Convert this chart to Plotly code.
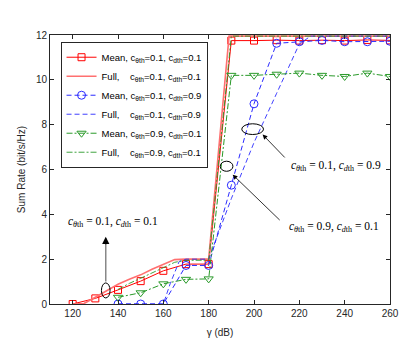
import plotly.graph_objects as go

# gamma (dB) grids
g_red = [120, 130, 140, 150, 160, 170, 180, 190, 200, 210, 220, 230, 240, 250, 260]
g_mean = [140, 150, 160, 170, 180, 190, 200, 210, 220, 230, 240, 250, 260]

# Mean, c_th=0.1, c_dth=0.1
mean_11 = [0, 0.25, 0.63, 1.02, 1.48, 1.78, 1.78, 11.75, 11.75, 11.77, 11.75, 11.77, 11.75, 11.78, 11.76]
# Full, 0.1 / 0.1
g_full_11 = [120, 125, 130, 135, 140, 145, 150, 155, 160, 165, 170, 175, 180, 189, 200, 210, 220, 230, 240, 250, 260]
full_11 = [0, 0.02, 0.3, 0.6, 0.88, 1.1, 1.3, 1.55, 1.78, 1.98, 2.0, 2.0, 2.0, 11.95, 11.95, 11.95, 11.95, 11.95, 11.95, 11.95, 11.95]

# Mean, 0.1 / 0.9
mean_19 = [0, 0, 0, 1.72, 1.72, 5.3, 8.93, 11.63, 11.7, 11.76, 11.7, 11.7, 11.72]
# Full, 0.1 / 0.9
g_full_19 = [140, 150, 160, 163, 167, 170, 180, 190, 200, 210, 220, 225, 230, 240, 250, 260]
full_19 = [0, 0, 0, 0.9, 1.9, 2.0, 2.0, 4.7, 7.2, 9.4, 11.6, 11.95, 11.95, 11.95, 11.95, 11.95]

# Mean, 0.9 / 0.1
mean_91 = [0.3, 0.5, 0.9, 1.1, 1.12, 10.2, 10.2, 10.25, 10.3, 10.2, 10.15, 10.3, 10.15]
# Full, 0.9 / 0.1
g_full_91 = [140, 145, 150, 155, 160, 165, 170, 180, 190, 200, 210, 220, 230, 240, 250, 260]
full_91 = [0.65, 0.92, 1.15, 1.4, 1.62, 1.86, 1.95, 1.95, 11.95, 11.95, 11.95, 11.95, 11.95, 11.95, 11.95, 11.95]

sp = "\u00a0"
lab_mean = "Mean, c<sub>θth</sub>=%s, c<sub>dth</sub>=%s"
lab_full = "Full," + sp * 4 + "c<sub>θth</sub>=%s, c<sub>dth</sub>=%s"

red = "#ff0000"
pink = "#ff7070"
blue = "#2a2aff"
green = "#2a9a2a"

fig = go.Figure()
fig.add_trace(go.Scatter(x=g_red, y=mean_11, name=lab_mean % ("0.1", "0.1"), mode="lines+markers",
                         line=dict(color=red, width=1),
                         marker=dict(symbol="square-open", size=7, color=red, line=dict(width=1))))
fig.add_trace(go.Scatter(x=g_full_11, y=full_11, name=lab_full % ("0.1", "0.1"), mode="lines",
                         line=dict(color=pink, width=1.6)))
fig.add_trace(go.Scatter(x=g_mean, y=mean_19, name=lab_mean % ("0.1", "0.9"), mode="lines+markers",
                         line=dict(color=blue, width=1, dash="5px,3px"),
                         marker=dict(symbol="circle-open", size=8, color=blue, line=dict(width=1))))
fig.add_trace(go.Scatter(x=g_full_19, y=full_19, name=lab_full % ("0.1", "0.9"), mode="lines",
                         line=dict(color=blue, width=0.9, dash="5px,3px")))
fig.add_trace(go.Scatter(x=g_mean, y=mean_91, name=lab_mean % ("0.9", "0.1"), mode="lines+markers",
                         line=dict(color=green, width=1, dash="6px,2px,2px,2px"),
                         marker=dict(symbol="triangle-down-open", size=8, color=green, line=dict(width=1))))
fig.add_trace(go.Scatter(x=g_full_91, y=full_91, name=lab_full % ("0.9", "0.1"), mode="lines",
                         line=dict(color=green, width=0.9, dash="6px,2px,2px,2px")))

# ellipses
fig.add_shape(type="circle", xref="x", yref="y", x0=132.7, x1=136.5, y0=0.27, y1=0.94,
              line=dict(color="black", width=1))
fig.add_shape(type="circle", xref="x", yref="y", x0=194.6, x1=204.2, y0=7.56, y1=8.04,
              line=dict(color="black", width=1))
fig.add_shape(type="circle", xref="x", yref="y", x0=185.1, x1=190.7, y0=5.92, y1=6.37,
              line=dict(color="black", width=1))
# grey shaft of first arrow
fig.add_shape(type="line", xref="x", yref="y", x0=134.6, x1=134.6, y0=1.0, y1=2.7,
              line=dict(color="#888888", width=1.5))

serif = dict(family="Liberation Serif", size=11.5, color="black")
fig.add_annotation(x=134.6, y=3.0, ax=134.6, ay=2.6, xref="x", yref="y", axref="x", ayref="y",
                   showarrow=True, arrowhead=2, arrowsize=1.2, arrowwidth=1.2, arrowcolor="black", text="")
fig.add_annotation(x=203.8, y=7.56, ax=214.2, ay=6.47, xref="x", yref="y", axref="x", ayref="y",
                   showarrow=True, arrowhead=2, arrowsize=1.2, arrowwidth=0.8, arrowcolor="black", text="")
fig.add_annotation(x=190.6, y=5.77, ax=212, ay=3.68, xref="x", yref="y", axref="x", ayref="y",
                   showarrow=True, arrowhead=2, arrowsize=1.2, arrowwidth=0.8, arrowcolor="black", text="")

math = "<i>c</i><sub><i>%s</i>th</sub> = %s, <i>c</i><sub><i>d</i>th</sub> = %s"
fig.add_annotation(x=137.6, y=3.68, xref="x", yref="y", showarrow=False, font=serif,
                   text=math % ("θ", "0.1", "0.1"))
fig.add_annotation(x=236.1, y=6.14, xref="x", yref="y", showarrow=False, font=serif,
                   text=math % ("θ", "0.1", "0.9"))
fig.add_annotation(x=235.1, y=3.45, xref="x", yref="y", showarrow=False, font=serif,
                   text=math % ("θ", "0.9", "0.1"))

axis_common = dict(showgrid=False, zeroline=False, showline=True, linecolor="#262626", linewidth=1,
                   mirror="ticks", ticks="inside", ticklen=4, tickcolor="#262626", automargin=False,
                   tickfont=dict(family="Liberation Sans", size=10, color="#262626"))
fig.update_xaxes(range=[110, 260], tickvals=[120, 140, 160, 180, 200, 220, 240, 260],
                 title=dict(text="γ (dB)", font=dict(family="Liberation Sans", size=10, color="#262626"),
                            standoff=10), **axis_common)
fig.update_yaxes(range=[0, 12], tickvals=[0, 2, 4, 6, 8, 10, 12],
                 title=dict(text="Sum Rate (bit/s/Hz)", font=dict(family="Liberation Sans", size=10, color="#262626"),
                            standoff=8), **axis_common)

# page body keeps its default 8px margin, so the figure is sized to fit the window
fig.update_layout(
    width=407, height=339,
    margin=dict(l=42, r=25, t=27, b=43),
    plot_bgcolor="white", paper_bgcolor="white",
    legend=dict(x=0.031, y=0.975, xanchor="left", yanchor="top",
                bgcolor="white", bordercolor="#262626", borderwidth=1,
                font=dict(family="Liberation Sans", size=9.5, color="black"),
                tracegroupgap=0, itemwidth=30),
)

fig.write_html("out.html")
